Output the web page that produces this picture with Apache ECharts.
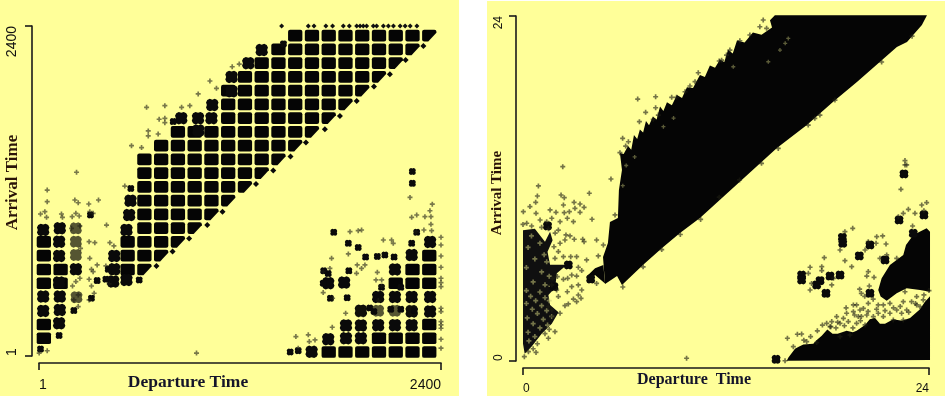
<!DOCTYPE html>
<html><head><meta charset="utf-8">
<style>html,body{margin:0;padding:0;background:#fff}#c{width:945px;height:396px;filter:blur(0.35px)}</style>
<script src="https://cdn.jsdelivr.net/npm/echarts@6/dist/echarts.min.js"></script>
</head><body><div id="c"></div>
<script>
// ---------- LEFT PANEL (hhmm clock values) ----------
const leftXTicks = [1, 2400];
const leftYTicks = [1, 2400];
// departure hours with a filled hour-block, one list per arrival hour 0..23
const leftSolidRows = [
 [17,18,19,20,21,22,23],
 [0,20,21,22,23],
 [0,23],
 [],
 [],
 [0,1,21,22,23],
 [0,1,5,22,23],
 [0,5,6,23],
 [0,5,6,7],
 [6,7,8],
 [6,7,8,9],
 [6,7,8,9,10],
 [6,7,8,9,10,11],
 [6,7,8,9,10,11,12],
 [6,7,8,9,10,11,12,13],
 [7,8,9,10,11,12,13,14],
 [8,9,10,11,12,13,14,15],
 [11,12,13,14,15,16],
 [11,12,13,14,15,16,17],
 [11,12,13,14,15,16,17,18],
 [12,13,14,15,16,17,18,19],
 [13,14,15,16,17,18,19,20],
 [14,15,16,17,18,19,20,21],
 [15,16,17,18,19,20,21,22]
];
// hours where arrival = departure hour, only the upper-left part of the block is filled
const leftDiagonalHours = [6,7,8,9,10,11,12,13,14,15,16,17,18,19,20,21,22,23];
const leftDiagonalDots = [[2295,2254],[2189,2152],[2095,2050],[2000,1960],[1897,1855],[1797,1745],[1707,1650],[1594,1553],[1502,1451],[1399,1350],[1296,1252],[1096,1050],[1005,953],[897,856],[798,760],[702,656]];
const leftPartial = [[539,1026],[547,1130],[523,917],[450,728],[450,631],[444,542],[523,554],[26,917],[125,929],[121,832],[121,728],[121,535],[26,433],[125,433],[26,329],[125,336],[121,239],[221,631],
 [1628,31],[1727,123],[1833,130],[1922,130],[1833,223],[1922,223],[2025,225],[2125,225],[2225,225],[1922,330],[2025,430],[2225,430],[2335,430],[2125,430],[2335,325],[2225,325],[1727,530],[1822,535],[2125,630],[2225,735],[2335,830],[850,1730],[950,1730],[1030,1730],[952,1640],[1035,1825],[1150,1925],[1150,2030],[1250,2130],[1330,2225]];
const leftLight = [[221,929],[221,832],[221,735],[225,428],[2025,330],[2125,330],[2225,330],[1922,325]];
const leftSmall = [[414,631],[400,559],[348,549],[599,554],[121,150],[10,51],[209,331],[308,1026],[314,421],[549,1219],[802,1705],[2229,1342],[2229,1256],[1548,40],[1500,30],[1697,530],[1727,600],[1850,620],[1906,790],[1847,820],[1950,720],[2020,725],[2065,735],[2120,720],[2225,820],[2255,900],[2160,500],[1700,620],[1740,420],[1840,425],[2045,500],[2000,325],[1975,350],[2100,340],[2240,330],[2160,340],[1460,2270],[1760,900]];
const leftSparse = [[50,1207],[50,1123],[10,1033],[36,1050],[46,1009],[135,1033],[141,1009],[215,1135],[235,1115],[298,1106],[356,1135],[221,1038],[241,1019],[199,1014],[324,1038],[304,1050],[404,953],[245,946],[195,929],[300,832],[334,825],[424,825],[448,801],[249,784],[304,711],[348,663],[314,631],[324,614],[400,656],[245,566],[221,542],[300,559],[201,510],[314,510],[420,525],[330,457],[300,409],[235,445],[209,409],[235,360],[941,22],[2,22],[50,39],[513,1236],
 [225,1337],[643,1809],[752,1821],[852,1809],[901,1821],[718,1722],[752,1729],[752,1697],[653,1637],[653,1601],[712,1615],[553,1530],[613,1516],[951,1906],[1021,2000],[1060,1947],[1154,2104],[1196,2123],
 [2348,1105],[2334,1057],[2304,1014],[2340,1014],[2340,958],[2255,1026],[2225,1009],[2215,1154],[2251,905],[2298,917],[2344,912],[1857,905],[1906,912],[1926,917],[1747,711],[1847,743],[2105,844],[2115,820],[2056,844],[1900,663],[1926,638],[1946,663],[1896,602],[2020,609],[2012,554],[2046,554],[2046,510],[2026,404],[1697,614],[1737,638],[1697,462],[1753,421],[1831,312],[1751,210],[1534,142],[1608,155],[1648,118],[1614,106],[1548,58],
 [2400,864],[2400,808],[2400,728],[2400,646],[2400,566],[2400,535],[2400,505],[2400,348],[2400,324],[2400,251],[2400,227],[2400,203],[2400,123],[2400,58]];
const leftTopRow = [1449,1608,1642,1713,1753,1817,1853,1897,1917,1936,1956,1996,2016,2056,2086,2116,2156,2186,2216,2256];

// ---------- RIGHT PANEL (hours) ----------
const rightXTicks = [0, 24];
const rightYTicks = [0, 24];
const rightBand = [[4.85,5.36],[4.73,7.23],[5.02,8.21],[5.14,9.67],[5.61,9.95],[5.67,11.9],[5.85,13.29],[5.73,14.47],[5.95,14.4],[6.21,14.95],[6.4,14.7],[6.56,15.72],[6.75,15.45],[6.91,16.1],[7.1,15.9],[7.27,16.7],[7.45,16.4],[7.68,17],[7.9,16.8],[8.1,17.7],[8.3,17.4],[8.51,18],[8.8,17.8],[9.1,18.5],[9.4,18.3],[9.69,19.05],[10.05,19],[10.46,19.9],[10.75,19.75],[11.05,20.55],[11.35,20.4],[11.64,20.95],[11.9,20.8],[12.12,21.65],[12.4,21.4],[12.65,22.3],[13.1,22.15],[13.59,22.85],[14.1,22.7],[14.72,23.2],[14.6,23.7],[14.89,24.05],[23.88,24.05],[23.58,23.37],[22.7,22.19],[22.1,21.84],[19.74,19.41],[18.32,18.02],[16.78,16.42],[15.01,14.82],[13.71,13.43],[10.46,9.95],[9.28,8.9],[8.22,7.86],[7.09,6.68],[5.85,5.29],[5.56,5.91]];
const rightTail = [[3.76,5.87],[4.26,6.45],[4.75,6.68],[4.85,5.4],[4.26,5.98],[3.96,5.59]];
const rightLowerBand = [[15.59,0.02],[15.69,0.25],[16.08,0.85],[16.3,1],[16.57,1.15],[17.16,1.2],[17.4,1.5],[17.66,1.75],[17.99,2.2],[18.3,1.9],[18.6,1.9],[19.13,2.1],[19.5,2],[19.72,2.1],[20.22,2.5],[20.5,2.9],[20.81,3],[21.1,2.6],[21.4,2.6],[21.89,2.9],[22.4,2.8],[22.88,3],[23.47,3.6],[23.75,4.1],[24.06,4.5],[24.06,0.07]];
const rightUpperBlock = [[21,4.94],[21.2,5.75],[21.69,6.68],[22.48,7.38],[22.64,8.07],[23.07,8.77],[23.86,9.23],[24.06,9],[24.06,4.82],[23.47,4.94],[22.68,5.06],[22.09,4.71],[21.5,4.2],[21.14,4.48]];
const rightCloud = [[0,9.1],[0.7,9.2],[1.3,8.3],[1.6,9],[1.75,8.4],[1.45,7.6],[1.6,6.7],[2.6,6.7],[2,6.1],[1.9,5.1],[1.5,4.6],[1.6,3.9],[2.1,3.4],[1.7,2.6],[1.1,1.9],[0.5,1],[0.1,0.5],[0,1.2]];
// pale gaps inside the left cloud
const rightCloudGaps = [[0.5,8.7],[1,8.2],[0.3,7.9],[1.25,7.4],[0.7,7.1],[1.4,6.9],[0.2,6.5],[1.1,6.2],[1.55,5.9],[0.6,5.5],[1.3,5.3],[1.65,5.2],[0.2,4.9],[1,4.8],[0.45,4.5],[1.3,4.4],[0.75,4.2],[1.55,4.2],[0.2,4],[1.1,3.85],[0.55,3.6],[1.4,3.5],[0.85,3.3],[1.7,3.1],[0.25,3],[1.2,2.9],[0.6,2.6],[1.45,2.5],[1,2.3],[0.3,2],[0.7,1.7],[0.35,1.4]];
const rightClumps = [[22.52,13.01],[22.23,9.81],[23.7,10.16],[18.88,8.6],[18.9,8.19],[16.47,5.98],[16.47,5.64],[17.56,5.59],[17.36,5.29],[18.15,5.91],[17.91,4.71],[18.74,5.98],[20.51,8.07],[19.88,7.31],[20.51,4.71],[21.4,7.03],[14.96,0.12],[23.07,8.88],[1.83,5.17],[2.68,6.68],[4.0,5.7],[1.45,9.4]];
const rightSparse = [[2.35,13.52],[0.91,12.18],[0.85,11.48],[2.25,11.55],[2.44,11.36],[3.92,11.67],[0.02,10.39],[0.41,10.74],[0.75,11.04],[0.77,10.27],[1.6,10.51],[1.95,10.34],[2.39,10.85],[2.44,10.32],[2.74,10.39],[3.02,11.04],[3.07,10.62],[3.37,10.92],[3.61,10.69],[3.37,10.34],[4.08,9.86],[5.2,12.66],[5.44,10.16],[2.98,9.69],[2.62,9.93],[2.19,9.69],[1.01,9.81],[1.4,9.69],[1.7,9.93],[0.22,9.58],[0.51,9.39],[2.09,9.11],[2.54,8.77],[2.78,8.7],[3.03,8.47],[3.53,8.47],[4.35,8.42],[3.61,8.3],[2.19,8.19],[2.48,8.42],[4.75,8.07],[2.82,7.26],[3.17,7.26],[3.76,7.03],[4.45,7.31],[1.83,7.95],[2.09,7.61],[2.39,7.26],[1.89,7.14],[3.27,6.52],[3.47,6.29],[2.88,5.98],[3.17,5.91],[2.64,5.75],[2.39,5.68],[2.03,5.87],[1.75,5.75],[4.35,5.4],[3.27,5.29],[2.88,5.17],[3.47,4.94],[2.62,4.82],[1.99,4.94],[1.7,5.29],[2.09,4.48],[3.27,4.59],[3.43,4.36],[2.98,4.31],[3.17,4.13],[2.68,3.97],[2.48,3.85],[2.19,3.32],[1.5,3.78],[1.7,3.55],[1.89,2.04],[1.5,1.58],[0.77,0.6],[0.32,0.65],[0.08,0.3],[9.67,0.19],
 [1.9,8.9],[1.1,9.3],[1.5,9.2],[0,9.5],[1.75,3.1],[1.55,2.2],[1.3,1.9],[0.85,1.2],[0.6,0.85],
 [22.58,13.94],[22.68,13.64],[22.58,13.64],[22.34,11.94],[23.86,11.02],[23.57,10.85],[22.78,10.55],[23.17,10.27],[22.48,10.27],[22.19,10.04],[23.7,10.46],[23.03,9.39],[19.49,9.23],[19.03,9],[18.74,7.72],[17.81,7.19],[19.03,6.98],[19.43,6.56],[17.66,6.56],[16.97,6.52],[16.87,6.1],[17.66,6.29],[18.35,5.75],[17.06,5.4],[16.97,4.94],[18.25,5.29],[20.22,7.72],[20.91,8.65],[21.26,8.7],[21.46,8.14],[20.87,8.19],[20.41,8.3],[21.1,7.14],[21.5,7.38],[22.09,7.14],[20.41,6.22],[20.75,5.82],[20.32,5.91],[20.47,5.22],[20.41,4.01],[19.53,3.9],[19.72,3.9],[19.92,3.55],[20.12,3.66],[20.32,3.2],[19.82,3.09],[19.53,3.43],[19.13,3.32],[18.94,2.97],[18.54,3.09],[18.25,2.74],[18.15,2.39],[18.74,2.62],[19.23,2.74],[19.72,2.62],[20.22,2.51],[20.71,3.09],[21,3.32],[21.3,3.09],[21.69,3.32],[22.09,3.55],[22.38,3.32],[22.68,3.55],[21.89,2.85],[22.48,2.85],[21.3,3.9],[21.69,4.01],[22.48,4.13],[22.97,4.13],[23.27,4.48],[23.66,4.25],[22.58,4.82],[23.27,3.9],[23.47,3.78],[15.63,1.58],[16.22,1.86],[16.47,1.88],[16.77,1.35],[17.36,1.28],[15.98,1],[17.95,2.62],[18.2,2.39],[15.49,0.02],[18.74,1.69],[19.33,1.81],
 [17.4,2.1],[17.7,2.5],[18.5,2.3],[19,2.45],[19.5,2.3],[19.95,2.8],[20.4,3.45],[20.9,3.6],[21.4,3.5],[21.9,3.7],[22.3,3.8],[22.8,3.4],[23.2,4],[23.7,4.6],[24,4.9],[20.7,4.3],[21,3.9],[19.1,3.7],[19.6,3.2],[20,3.1],[18.6,2.7],[17,1.7],[16.6,1.45],[20.2,4.5],[20,4.7],[19.9,5],
 [6.78,18.22],[7.84,18.38],[7.25,17.3],[7.84,17.62],[6.88,16.65],[5.89,15.49],[6.23,15.25],[6.07,14.95],[5.73,14.49],[8,17.11],[7.7,16.81],[8.79,18.34],[9.08,18.34],[9.58,18.73],[9.87,19.13],[10.36,20.05],[10.17,19.43],[11.6,20.87],[14.2,23.72],[14,23.25],[14.4,23.14],[13.41,22.68],[12.82,22.28],[12.23,21.63],[12.03,21.28],[11.74,20.93],[18.44,18.15],[17.55,17.11],[17.25,16.88],[16.86,16.41],[15.09,14.79],[14.1,13.75],[12.8,12.6],[11.6,11.4],[10.5,9.85],[9.3,8.8],[8.2,7.75],[7.1,6.55],[5.9,5.15],[21.2,20.8],[23,22.6]];
const rightHoles = [[15.68,22.44],[15.5,22.1],[15.19,21.63],[14.5,20.82],[12.43,20.47],[8.9,16.9],[8.3,16.3],[6.6,14.2],[6.1,13.6],[5.9,12.2]];

// ---------- helpers ----------
const BLOCK = 'path://M2 0H12Q14 0 14 2V10Q14 12 12 12H2Q0 12 0 10V2Q0 0 2 0Z';
const WEDGE = 'path://M2 0H12Q14 0 14 2V3L6 12H2Q0 12 0 10V2Q0 0 2 0Z';
const JAG = 'path://M1 1L3 0L5 .7L7 0L9 1L10 3L9.3 5L10 7L9 9L7 10L5 9.3L3 10L1 9L0 7L.7 5L0 3Z';
const PLUS = 'path://M1 0H2V1H3V2H2V3H1V2H0V1H1Z';

const leftSolidPoints = [];
leftSolidRows.forEach((deps, arr) => deps.forEach(d => leftSolidPoints.push([d * 100 + 30, arr * 100 + 30])));
const leftWedgePoints = leftDiagonalHours.map(h => [h * 100 + 30, h * 100 + 30]);
const leftTopPoints = leftTopRow.map(d => [d, 2400]);

function scatter(i, data, symbol, size, color, z) {
  return {type:'scatter', xAxisIndex:i, yAxisIndex:i, data, symbol, symbolSize:size, clip:false, silent:true, z,
    itemStyle:{color, opacity:1}, animation:false, emphasis:{disabled:true}};
}
function shape(i, pts, fill, z) {
  return {type:'custom', xAxisIndex:i, yAxisIndex:i, clip:false, silent:true, z, animation:false,
    data:[pts[0]],
    renderItem:(p, api) => ({type:'polygon', shape:{points:pts.map(q => api.coord(q))}, style:{fill}})};
}
function xAxis(i, min, max, ticks, name, size, pad) {
  return {type:'value', gridIndex:i, min, max, offset:7, position:'bottom', splitLine:{show:false},
    axisLine:{show:true, onZero:false, lineStyle:{color:'#1a1a1a', width:1.6}},
    axisTick:{show:true, length:7, customValues:ticks, lineStyle:{color:'#1a1a1a', width:1.6}},
    axisLabel:{show:true, customValues:ticks, margin:15, formatter:v => String(v), fontFamily:'Liberation Sans', fontSize:size, color:'#111', alignMinLabel:'left', alignMaxLabel:'right'},
    name, nameLocation:'middle', nameMoveOverlap:false, nameGap:i ? 4 : 10,
    nameTextStyle:{fontFamily:'Liberation Serif', fontWeight:'bold', fontSize:i ? 16 : 17.5, color:'#14142a', padding:[0,pad,0,0]}};
}
function yAxis(i, min, max, ticks, name, size, pad) {
  return {type:'value', gridIndex:i, min, max, offset:7, position:'left', splitLine:{show:false},
    axisLine:{show:true, onZero:false, lineStyle:{color:'#1a1a1a', width:1.6}},
    axisTick:{show:true, length:7, customValues:ticks, lineStyle:{color:'#1a1a1a', width:1.6}},
    axisLabel:{show:true, customValues:ticks, rotate:90, margin:i ? 17 : 20, formatter:v => String(v), fontFamily:'Liberation Sans', fontSize:size, color:'#111', alignMinLabel:'left', alignMaxLabel:'right', verticalAlign:'middle'},
    name, nameLocation:'middle', nameMoveOverlap:false, nameRotate:90, nameGap:i ? 11 : 11,
    nameTextStyle:{fontFamily:'Liberation Serif', fontWeight:'bold', fontSize:i ? 15 : 17, color:'#2a1408', padding:pad}};
}

const chart = echarts.init(document.getElementById('c'), null, {renderer:'canvas'});
chart.setOption({
  animation:false, backgroundColor:'#ffffff',
  graphic:[
    {type:'rect', silent:true, z:-10, shape:{x:0,y:0,width:459,height:396}, style:{fill:'#FFFF99'}},
    {type:'rect', silent:true, z:-10, shape:{x:487,y:1,width:458,height:395}, style:{fill:'#FFFF99'}}
  ],
  grid:[
    {left:39, width:402, top:26, height:330, outerBoundsMode:'none', containLabel:false},
    {left:523, width:406, top:16, height:345, outerBoundsMode:'none', containLabel:false}
  ],
  xAxis:[xAxis(0,1,2400,leftXTicks,'Departure Time',14,104), xAxis(1,0,24,rightXTicks,'Departure  Time',12,64)],
  yAxis:[yAxis(0,1,2400,leftYTicks,'Arrival Time',14,[0,0,0,17]), yAxis(1,0,24,rightYTicks,'Arrival Time',12,[0,9,0,0])],
  series:[
    scatter(0,leftSolidPoints,BLOCK,[14.3,11.7],'#050505',3),
    scatter(0,leftWedgePoints,WEDGE,[14.3,11.7],'#050505',3),
    scatter(0,leftPartial,JAG,12.5,'#0a0a0a',3),
    scatter(0,leftLight,JAG,12,'rgba(20,20,10,0.72)',3),
    scatter(0,leftSmall,JAG,7,'#0a0a0a',3),
    scatter(0,leftDiagonalDots,'diamond',6,'#0a0a0a',3),
    scatter(0,leftTopPoints,'diamond',5,'#111',3),
    scatter(0,leftSparse,PLUS,5,'rgba(30,30,20,0.6)',3),
    shape(1,rightBand,'#050505',2),
    shape(1,rightTail,'#050505',2),
    shape(1,rightLowerBand,'#050505',2),
    shape(1,rightUpperBlock,'#050505',2),
    shape(1,rightCloud,'#101010',2),
    scatter(1,rightCloudGaps,PLUS,5,'rgba(200,200,120,0.55)',3),
    scatter(1,rightClumps,JAG,9,'#0a0a0a',3),
    scatter(1,rightSparse,PLUS,5,'rgba(30,30,20,0.62)',3),
    scatter(1,rightHoles,PLUS,4,'rgba(130,130,80,0.7)',4)
  ]
});
</script></body></html>
